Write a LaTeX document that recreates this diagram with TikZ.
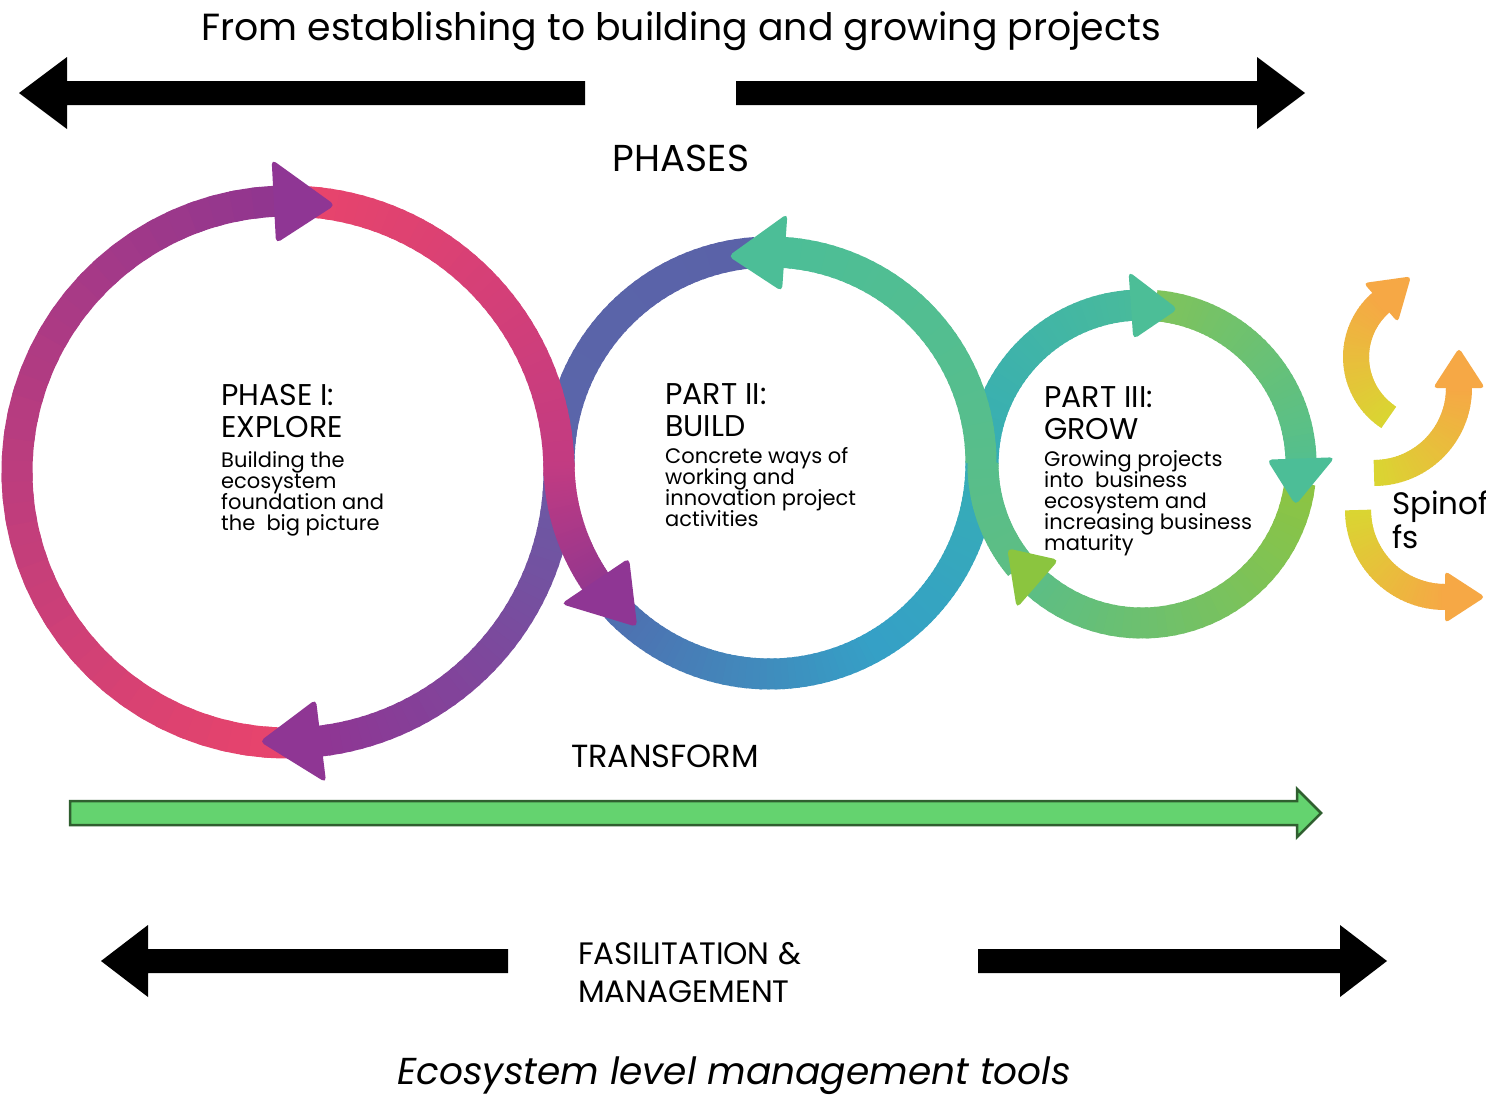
\documentclass[tikz,border=0pt]{standalone}
\usepackage{fontspec}
\setmainfont{Poppins}
\usetikzlibrary{calc}

\definecolor{rosered}{HTML}{E8446C}
\definecolor{rosemag}{HTML}{C23B82}
\definecolor{plum}{HTML}{91368F}
\definecolor{plumhead}{HTML}{8F3694}
\definecolor{indigo}{HTML}{5A62A8}
\definecolor{indigob}{HTML}{5A66AA}
\definecolor{violet}{HTML}{6A5BA5}
\definecolor{royal}{HTML}{4F6FB0}
\definecolor{cyanb}{HTML}{35A0C6}
\definecolor{tealb}{HTML}{36ADB6}
\definecolor{seagreen}{HTML}{48BA9C}
\definecolor{minthead}{HTML}{4CBE97}
\definecolor{leaf}{HTML}{7FC35B}
\definecolor{mint}{HTML}{55BF8D}
\definecolor{lime}{HTML}{8CC443}
\definecolor{limehead}{HTML}{8BC53F}
\definecolor{fern}{HTML}{5DBE84}
\definecolor{fernb}{HTML}{58BE8B}
\definecolor{sunyellow}{HTML}{DAD532}
\definecolor{sunorange}{HTML}{F6A845}
\definecolor{transgreen}{HTML}{64D36F}
\definecolor{transdark}{HTML}{2F5F2F}

\newcommand{\tightlines}{\lineskiplimit=-50pt\relax}

% gradient band along a circle: cx, cy, r, from, to, colour A, colour B
\newcommand{\gradarc}[7]{%
  \begin{scope}[shift={(#1,#2)}]
    \foreach \seg in {0,...,39}{%
      \pgfmathsetmacro{\angA}{#4+(#5-(#4))*\seg/40}%
      \pgfmathsetmacro{\angB}{#4+(#5-(#4))*(\seg+1.4)/40}%
      \pgfmathtruncatemacro{\mix}{100*\seg/39}%
      \draw[ring,#7!\mix!#6] (\angA:#3) arc[start angle=\angA,end angle=\angB,radius=#3];
    }%
  \end{scope}%
}
% arrow head on a circle: cx, cy, r, back angle, tip angle, half width, colour
\newcommand{\ringhead}[7]{%
  \begin{scope}[shift={(#1,#2)}]
    \fill[#7,rounded corners=5pt] (#4:{#3+#6}) -- (#5:#3) -- (#4:{#3-#6}) -- cycle;
  \end{scope}%
}
% straight head for the spinoffs: cx, cy, r, back angle, direction, colour
\newcommand{\spinhead}[6]{%
  \begin{scope}[shift={(#1,#2)}]
    \fill[#6,rounded corners=4pt] (#4:{#3+26}) -- ({#3*cos(#4)+40*cos(#5)},{#3*sin(#4)+40*sin(#5)}) -- (#4:{#3-26}) -- cycle;
  \end{scope}%
}

\begin{document}
\begin{tikzpicture}[x=1pt,y=-1pt,
   ring/.style={line width=31pt},
   headtext/.style={anchor=north west,inner sep=0pt,align=left,font=\fontsize{30}{32}\selectfont},
   bodytext/.style={anchor=north west,inner sep=0pt,align=left,font=\fontsize{21}{21.2}\selectfont\tightlines},
   label/.style={anchor=base,inner sep=0pt}]
   \useasboundingbox[fill=white] (0,0) rectangle (1486,1095);

   % the three cycles
   \gradarc{770}{463}{211}{137}{60}{royal}{cyanb}
   \gradarc{770}{463}{211}{60}{0}{cyanb}{tealb}
   \gradarc{1142}{464}{159}{180}{266}{tealb}{seagreen}
   \gradarc{770}{463}{211}{266}{180}{indigo}{indigob}
   \gradarc{288}{472}{271}{0}{83}{violet}{plumhead}
   \gradarc{288}{472}{271}{89}{267}{rosered}{plum}
   \gradarc{1142}{464}{159}{275}{358}{leaf}{mint}
   \gradarc{1142}{464}{159}{7}{131}{lime}{fern}
   \gradarc{1142}{464}{159}{140}{180}{fern}{fernb}
   \gradarc{770}{463}{211}{360}{274}{fernb}{minthead}
   \gradarc{288}{472}{271}{274}{360}{rosered}{rosemag}
   \gradarc{770}{463}{211}{180}{146}{rosemag}{plum!90!rosemag}

   \ringhead{288}{472}{271}{267}{280}{42}{plumhead}
   \ringhead{288}{472}{271}{83}{96}{42}{plumhead}
   \ringhead{770}{463}{211}{146}{129}{41}{plumhead}
   \ringhead{770}{463}{211}{274}{258.6}{39}{minthead}
   \ringhead{1142}{464}{159}{266}{283}{34}{minthead}
   \ringhead{1142}{464}{159}{358}{375}{34}{minthead}
   \ringhead{1142}{464}{159}{131}{148}{32}{limehead}

   % spinoffs
   \begin{scope}[ring/.style={line width=26pt}]
     \gradarc{1428}{357}{72}{123}{229}{sunyellow}{sunorange}
     \gradarc{1374}{388}{85}{90}{0}{sunyellow}{sunorange}
     \gradarc{1445}{510}{87}{180}{90}{sunyellow}{sunorange}
   \end{scope}
   \spinhead{1428}{357}{72}{229}{319}{sunorange}
   \spinhead{1374}{388}{85}{0}{-90}{sunorange}
   \spinhead{1445}{510}{87}{90}{0}{sunorange}

   % block arrows
   \fill (585,81) -- (67,81) -- (67,57) -- (19,93) -- (67,129) -- (67,105) -- (585,105) -- cycle;
   \fill (736,81) -- (1257,81) -- (1257,57) -- (1305,93) -- (1257,129) -- (1257,105) -- (736,105) -- cycle;
   \fill (508,949) -- (148,949) -- (148,925) -- (101,961) -- (148,997) -- (148,973) -- (508,973) -- cycle;
   \fill (978,949) -- (1340,949) -- (1340,925) -- (1387,961) -- (1340,997) -- (1340,973) -- (978,973) -- cycle;
   \filldraw[fill=transgreen,draw=transdark,line width=2.5pt] (70,801) -- (1297,801) -- (1297,789) -- (1321,813) -- (1297,837) -- (1297,825) -- (70,825) -- cycle;

   % texts
   \node[label,font=\fontsize{37.8}{40}\selectfont] (title) at (681,40) {From establishing to building and growing projects};
   \node[label,font=\fontsize{37.5}{40}\selectfont] (phases) at (681,171) {PHASES};
   \node[headtext] (explore) at (221,384) {PHASE I:\\EXPLORE};
   \node[bodytext] (exploretxt) at (221,451) {Building the\\ecosystem\\foundation and\\the\ \ big picture};
   \node[headtext] (build) at (665,383) {PART II:\\BUILD};
   \node[bodytext] (buildtxt) at (665,447) {Concrete ways of\\working and\\innovation project\\activities};
   \node[headtext] (grow) at (1044,386) {PART III:\\GROW};
   \node[bodytext] (growtxt) at (1044,450) {Growing projects\\into\ \ business\\ecosystem and\\increasing business\\maturity};
   \node[anchor=north west,inner sep=0pt,align=left,font=\fontsize{31}{34}\selectfont] (spinoffs) at (1392,491) {Spinof\\fs};
   \node[label,font=\fontsize{32}{36}\selectfont] (transform) at (665,767) {TRANSFORM};
   \node[anchor=north west,inner sep=0pt,align=left,font=\fontsize{31}{38}\selectfont] (facil) at (578,942) {FASILITATION \&\\MANAGEMENT};
   \node[label,font=\fontsize{37.5}{40}\selectfont\itshape] (tools) at (734,1084) {Ecosystem level management tools};
\end{tikzpicture}
\end{document}
